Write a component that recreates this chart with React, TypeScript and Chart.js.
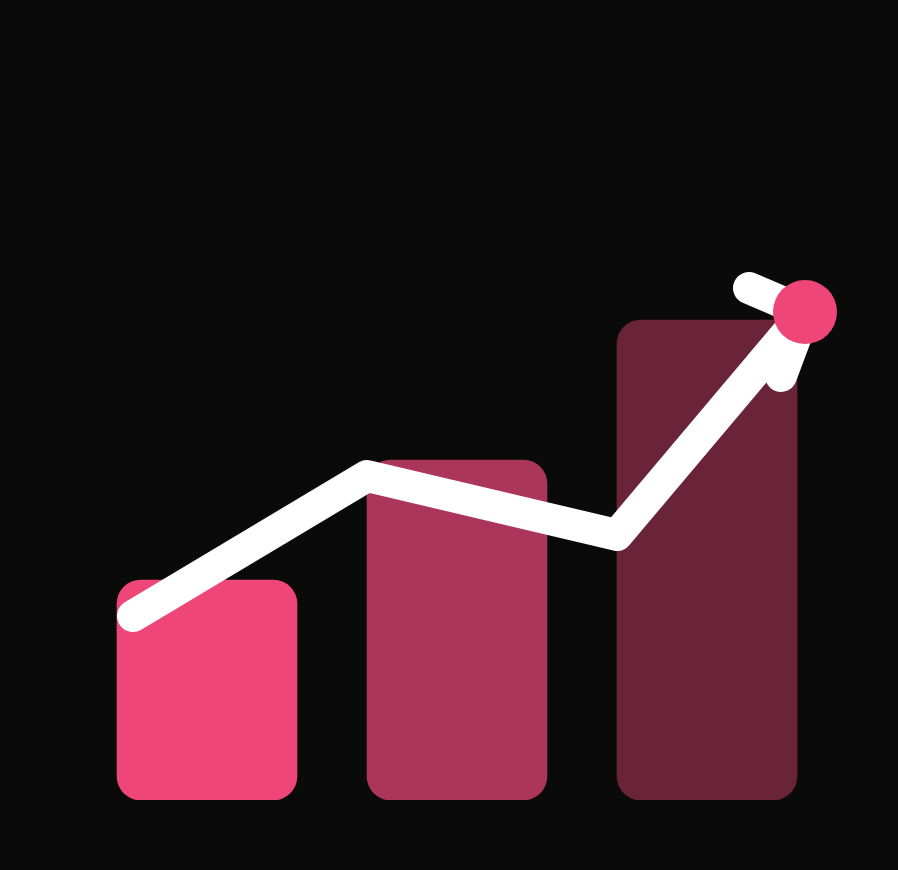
import React, { useEffect, useRef } from "react";
import { Chart, registerables } from "chart.js";

Chart.register(...registerables);

const barPositions = [0, 1, 2];
const barValues = [5.5, 8.5, 12];
const barColors = ["#EE4679", "#AC355C", "#692439"];

const trendX = [-0.296, 0.64, 1.64, 2.392];
const trendY = [4.6, 8.1, 6.625, 12.2];

const arrowX = [2.168, 2.392, 2.296];
const arrowY = [12.8, 12.2, 10.6];

const tipX = [2.392];
const tipY = [12.2];

const pairs = (xs: number[], ys: number[]) => xs.map((x, i) => ({ x, y: ys[i] }));

export default function App() {
  const ref = useRef<HTMLCanvasElement>(null);

  useEffect(() => {
    document.body.style.margin = "0";
    document.body.style.background = "#0A0A0A";
    const chart = new Chart(ref.current!, {
      data: {
        datasets: [
          {
            type: "scatter",
            data: pairs(tipX, tipY),
            pointRadius: 32,
            pointHoverRadius: 32,
            pointBackgroundColor: "#EE4679",
            pointBorderWidth: 0,
            clip: false,
            order: 1,
          },
          {
            type: "line",
            data: pairs(arrowX, arrowY),
            borderColor: "#FFFFFF",
            borderWidth: 32,
            borderCapStyle: "round",
            borderJoinStyle: "round",
            pointRadius: 0,
            tension: 0,
            clip: false,
            order: 2,
          },
          {
            type: "line",
            data: pairs(trendX, trendY),
            borderColor: "#FFFFFF",
            borderWidth: 32,
            borderCapStyle: "round",
            borderJoinStyle: "round",
            pointRadius: 0,
            tension: 0,
            clip: false,
            order: 3,
          },
          {
            type: "bar",
            data: pairs(barPositions, barValues),
            backgroundColor: barColors,
            barThickness: 180,
            borderRadius: 24,
            borderSkipped: false,
            order: 4,
          },
        ],
      } as any,
      options: {
        responsive: false,
        animation: false,
        layout: { autoPadding: false, padding: { bottom: 70 } },
        plugins: { legend: { display: false }, tooltip: { enabled: false } },
        scales: {
          x: { type: "linear", display: false, offset: false, min: -0.828, max: 2.764 },
          y: { type: "linear", display: false, min: 0, max: 20 },
        },
      },
    });
    return () => chart.destroy();
  }, []);

  return (
    <div style={{ width: 898, height: 870, background: "#0A0A0A" }}>
      <canvas ref={ref} width={898} height={870} style={{ display: "block" }} />
    </div>
  );
}
